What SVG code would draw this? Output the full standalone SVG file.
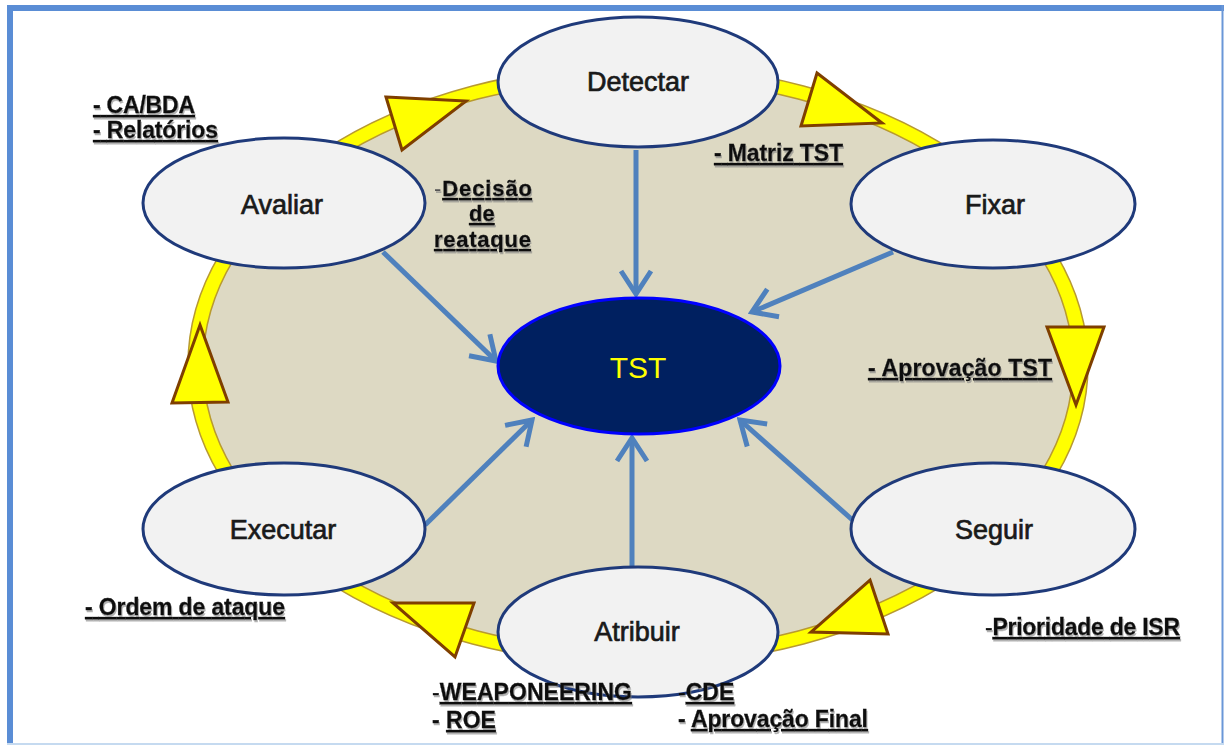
<svg xmlns="http://www.w3.org/2000/svg" width="1224" height="745" viewBox="0 0 1224 745">
  <style>
    .node { fill: #f2f2f2; stroke: #1f3a7a; stroke-width: 3; }
    .core { fill: #002060; stroke: #0000ff; stroke-width: 3; }
    .nlabel { font-family: "Liberation Sans", Arial, sans-serif; font-size: 27px; fill: #1a1a1a; stroke: #1a1a1a; stroke-width: 0.7; text-anchor: middle; dominant-baseline: central; }
    .clabel { font-family: "Liberation Sans", Arial, sans-serif; font-size: 30px; fill: #ffff00; text-anchor: middle; dominant-baseline: central; }
    .note { font-family: "Liberation Sans", Arial, sans-serif; font-size: 23px; font-weight: bold; fill: #111111; stroke: #111111; stroke-width: 0.3; filter: url(#shadow); }
    .tight { font-size: 22px; }
    .u { text-decoration: underline; }
    .dash { font-weight: normal; }
    .link { stroke: #4f81bd; stroke-width: 5; fill: none; marker-end: url(#chev); }
    .tri { fill: #ffff00; stroke: #7f3f00; stroke-width: 3; stroke-linejoin: miter; }
  </style>
  <defs>
    <marker id="chev" markerUnits="userSpaceOnUse" viewBox="-30 -20 34 40" refX="0" refY="0" markerWidth="34" markerHeight="40" orient="auto">
      <path d="M-23,-15 L0,0 L-23,15" fill="none" stroke="#4f81bd" stroke-width="5"/>
    </marker>
    <filter id="shadow" x="-5%" y="-20%" width="110%" height="150%">
      <feDropShadow dx="1" dy="2" stdDeviation="0.6" flood-color="#808080" flood-opacity="0.6"/>
    </filter>
  </defs>

  <!-- frame -->
  <g id="frame">
    <rect x="7" y="5" width="1217" height="6" fill="#5a8dd5"/>
    <rect x="7" y="5" width="6" height="740" fill="#5a8dd5"/>
    <line x1="1222.5" y1="5" x2="1222.5" y2="745" stroke="#6a97d8" stroke-width="2"/>
    <line x1="7" y1="744" x2="1224" y2="744" stroke="#c5daf0" stroke-width="2"/>
  </g>

  <!-- cycle ring -->
  <g id="ring">
    <ellipse cx="638" cy="365" rx="450" ry="300" fill="#ffff00" stroke="#b89a30" stroke-width="1.5"/>
    <ellipse cx="638" cy="365" rx="435" ry="286" fill="#ddd9c3" stroke="#b89a30" stroke-width="1.5"/>
  </g>

  <!-- direction marks on the ring -->
  <g id="ring-arrows">
    <polygon class="tri" points="386,97 466,101 402,150"/>
    <polygon class="tri" points="817,73 882,123 801,126"/>
    <polygon class="tri" points="1047,327 1104,327 1076,405"/>
    <polygon class="tri" points="870,580 888,634 811,632"/>
    <polygon class="tri" points="393,603 474,603 455,657"/>
    <polygon class="tri" points="200,325 172,403 228,402"/>
  </g>

  <!-- connectors -->
  <g id="connectors">
    <line class="link" x1="636" y1="150" x2="636" y2="294"/>
    <line class="link" x1="893" y1="252" x2="752" y2="312"/>
    <line class="link" x1="383" y1="252" x2="496" y2="361"/>
    <line class="link" x1="425" y1="525" x2="532" y2="420"/>
    <line class="link" x1="632" y1="567" x2="632" y2="438"/>
    <line class="link" x1="857" y1="524" x2="740" y2="420"/>
  </g>

  <g id="node-tst">
    <ellipse class="core" cx="639" cy="366" rx="141" ry="68"/>
    <text class="clabel" x="638" y="367">TST</text>
  </g>
  <g id="node-detectar">
    <ellipse class="node" cx="638" cy="82" rx="140" ry="65"/>
    <text class="nlabel" x="638" y="82">Detectar</text>
  </g>
  <g id="node-fixar">
    <ellipse class="node" cx="993" cy="204" rx="142" ry="64"/>
    <text class="nlabel" x="995" y="205">Fixar</text>
  </g>
  <g id="node-seguir">
    <ellipse class="node" cx="993" cy="529" rx="142" ry="66"/>
    <text class="nlabel" x="994" y="530">Seguir</text>
  </g>
  <g id="node-atribuir">
    <ellipse class="node" cx="638" cy="632" rx="140" ry="65"/>
    <text class="nlabel" x="637" y="632">Atribuir</text>
  </g>
  <g id="node-executar">
    <ellipse class="node" cx="284" cy="529" rx="141" ry="66"/>
    <text class="nlabel" x="283" y="530">Executar</text>
  </g>
  <g id="node-avaliar">
    <ellipse class="node" cx="284" cy="203" rx="141" ry="65"/>
    <text class="nlabel" x="282" y="205">Avaliar</text>
  </g>

  <!-- annotations -->
  <g id="notes">
    <text class="note u" x="93" y="113" textLength="102">- CA/BDA</text>
    <text class="note u" x="93" y="138" textLength="125">- Relatórios</text>
    <text class="note u" x="714" y="161" textLength="129">- Matriz TST</text>
    <text class="note tight" x="434" y="196" textLength="98"><tspan class="dash" fill="#555" stroke="none">-</tspan><tspan class="u">Decisão</tspan></text>
    <text class="note tight u" x="469" y="221">de</text>
    <text class="note tight u" x="434" y="247" textLength="97">reataque</text>
    <text class="note u" x="868" y="376" textLength="184">- Aprovação TST</text>
    <text class="note u" x="85" y="615" textLength="200">- Ordem de ataque</text>
    <text class="note" x="985" y="635" textLength="195"><tspan class="dash">-</tspan><tspan class="u">Prioridade de ISR</tspan></text>
    <text class="note" x="432" y="700" textLength="200"><tspan class="dash">-</tspan><tspan class="u">WEAPONEERING</tspan></text>
    <text class="note" x="432" y="728">- <tspan class="u">ROE</tspan></text>
    <text class="note" x="678" y="700"><tspan class="dash">-</tspan><tspan class="u">CDE</tspan></text>
    <text class="note" x="678" y="727" textLength="190">- <tspan class="u">Aprovação Final</tspan></text>
  </g>
</svg>
